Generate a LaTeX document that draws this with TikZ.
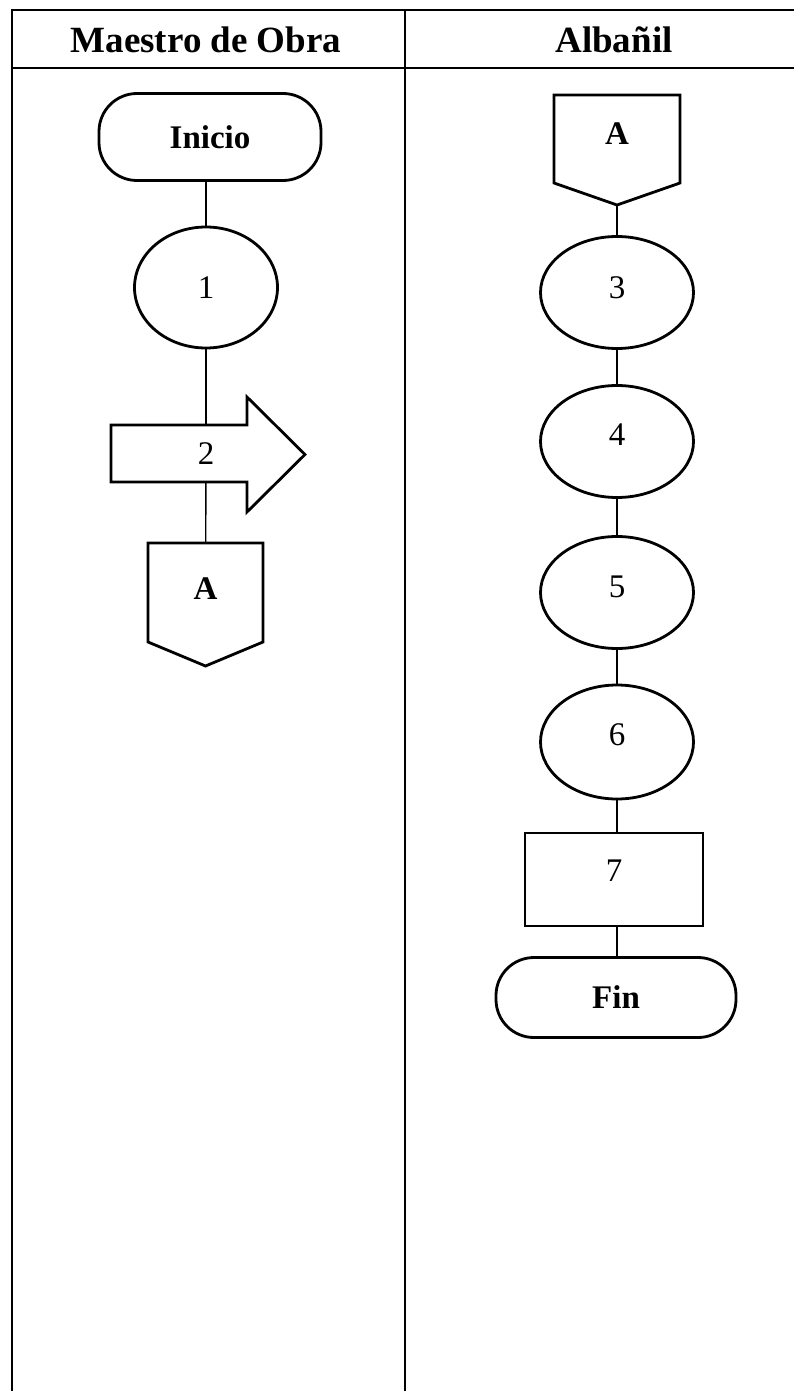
\documentclass[tikz,border=0pt]{standalone}
\usepackage{fontspec}
\setmainfont{Liberation Serif}
\usetikzlibrary{shapes.geometric}
\newcommand{\upby}[2]{\raisebox{#1}{#2}}
\begin{document}
\begin{tikzpicture}[x=1pt,y=-1pt,
  tbl/.style={line width=2.2pt, line cap=rect},
  hdr/.style={font=\fontsize{37}{40}\selectfont\bfseries, inner sep=0},
  shp/.style={draw, line width=2.8pt, line join=miter},
  lbl/.style={font=\fontsize{33}{38}\selectfont, inner sep=0},
  ell/.style={shp, ellipse, inner sep=0, minimum width=153, minimum height=112, font=\fontsize{33}{38}\selectfont},
  term/.style={shp, rectangle, rounded corners=38pt, inner sep=0, font=\fontsize{33}{38}\selectfont\bfseries},
  proc/.style={shp, rectangle, inner sep=0, font=\fontsize{33}{38}\selectfont},
  inv/.style={rectangle, inner sep=0},
  con/.style={line width=1.4pt}]
\useasboundingbox (0,0) rectangle (794,1391);
% table
\draw[tbl] (12,1391) -- (12,10) -- (794,10);
\draw[tbl] (12,68) -- (794,68);
\draw[tbl] (405,10) -- (405,1391);
\node[hdr] (h1) at (206,40) {Maestro de Obra};
\node[hdr] (h2) at (614,40) {Albañil};
% left lane
\node[term, minimum width=222, minimum height=87] (inicio) at (210,137) {Inicio};
\node[ell, minimum width=143, minimum height=121] (n1) at (206,287.5) {1};
\node[inv, minimum width=20, minimum height=57, font=\fontsize{33}{38}\selectfont] (n2) at (206,453.5) {\raisebox{-8pt}{2}};
\draw[shp] (111,425) -- (247,425) -- (247,397) -- (305,454.5) -- (247,512) -- (247,482) -- (111,482) -- cycle;
\node[inv, minimum width=115, minimum height=123] (offA) at (205.5,604.5) {};
\draw[shp] (148,543) -- (263,543) -- (263,642) -- (205.5,666) -- (148,642) -- cycle;
\node[lbl, font=\fontsize{33}{38}\selectfont\bfseries] (tA) at (205.5,589) {A};
\draw[con] (n1.north) -- (n1.north |- inicio.south);
\draw[con] (n1) -- (n2);
\draw[con] (n2) -- (offA);
% right lane
\node[inv, minimum width=126, minimum height=110] (offB) at (617,150) {};
\draw[shp] (554,95) -- (680,95) -- (680,183) -- (617,205) -- (554,183) -- cycle;
\node[lbl, font=\fontsize{33}{38}\selectfont\bfseries] (tB) at (617,134) {A};
\node[ell] (n3) at (617,292.5) {\upby{10pt}{3}};
\node[ell] (n4) at (617,441.5) {\upby{14pt}{4}};
\node[ell] (n5) at (617,592.5) {\upby{12pt}{5}};
\node[ell, minimum height=114] (n6) at (617,742) {\upby{14pt}{6}};
\node[proc, minimum width=178, minimum height=93] (n7) at (614,879.5) {\upby{18pt}{7}};
\node[term, minimum width=240, minimum height=80] (fin) at (616,997.5) {Fin};
\draw[con] (offB) -- (n3);
\draw[con] (n3) -- (n4);
\draw[con] (n4) -- (n5);
\draw[con] (n5) -- (n6);
\draw[con] (n6.south) -- (n6.south |- n7.north);
\draw[con] (n6.south |- n7.south) -- (n6.south |- fin.north);
\end{tikzpicture}
\end{document}
